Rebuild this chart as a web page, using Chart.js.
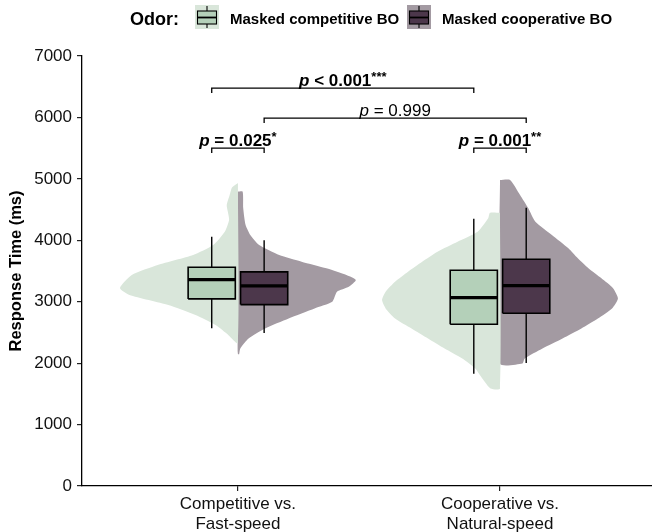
<!DOCTYPE html>
<html><head><meta charset="utf-8">
<script src="https://cdn.jsdelivr.net/npm/chart.js@4.4.1/dist/chart.umd.min.js"></script>
<style>html,body{margin:0;padding:0;background:#fff;overflow:hidden}#wrap{width:652px;height:532px}</style>
</head><body><div id="wrap"><canvas id="c" width="652" height="532"></canvas></div>
<script>
// ---------- data ----------
const categories = [['Competitive vs.', 'Fast-speed'], ['Cooperative vs.', 'Natural-speed']];
const seriesNames = ['Masked competitive BO', 'Masked cooperative BO'];
const legendTitle = 'Odor:';
const yAxisTitle = 'Response Time (ms)';
const yTickValues = [0, 1000, 2000, 3000, 4000, 5000, 6000, 7000];

// box statistics per category: [lower whisker, Q1, median, Q3, upper whisker] (ms)
const competitiveStats = [[2566, 3046, 3360, 3561, 4057], [1827, 2632, 3067, 3513, 4351]];
const cooperativeStats = [[2491, 2953, 3258, 3486, 4002], [2001, 2811, 3263, 3692, 4530]];

// violin outlines: [ms, relative half-width]
const competitiveFastViolin = [[4933,0],[4860,0.05],[4737,0.07],[4572,0.095],[4460,0.085],[4330,0.075],[4145,0.11],[3923,0.21],[3760,0.38],[3597,0.68],[3434,0.90],[3222,1.00],[3108,0.92],[2945,0.59],[2782,0.36],[2619,0.19],[2456,0.08],[2326,0]];
const cooperativeFastViolin = [[4791,0],[4791,0.04],[4521,0.045],[4249,0.065],[4086,0.105],[3923,0.18],[3760,0.35],[3651,0.54],[3543,0.75],[3434,0.92],[3352,1.00],[3243,0.94],[3162,0.84],[2999,0.80],[2891,0.65],[2728,0.43],[2565,0.23],[2402,0.09],[2239,0.02],[2146,0.01],[2146,0]];
const competitiveNaturalViolin = [[4449,0],[4449,0.085],[4358,0.10],[4139,0.19],[3976,0.36],[3814,0.53],[3651,0.66],[3488,0.78],[3325,0.89],[3162,0.97],[3026,1.00],[2891,0.97],[2728,0.89],[2565,0.75],[2402,0.61],[2239,0.47],[2076,0.32],[1913,0.21],[1750,0.15],[1587,0.08],[1587,0]];
const cooperativeNaturalViolin = [[4982,0],[4982,0.085],[4737,0.17],[4521,0.24],[4302,0.30],[4086,0.44],[3869,0.58],[3706,0.66],[3543,0.75],[3380,0.86],[3217,0.96],[3054,1.00],[2891,0.95],[2728,0.83],[2565,0.69],[2402,0.53],[2239,0.36],[2076,0.21],[1995,0.19],[1995,0]];

// significance brackets
const bracketLabels = ['p < 0.001', 'p = 0.999', 'p = 0.025', 'p = 0.001'];
const bracketStars = ['***', '', '*', '**'];
const bracketBold = [true, false, true, true];
const bracketLevels = [6477, 5988, 5499, 5499];
const bracketFrom = [[0, 0], [0, 1], [0, 0], [1, 0]]; // [category, series]
const bracketTo = [[1, 0], [1, 1], [0, 1], [1, 1]];

// ---------- style ----------
const FAM = '"Liberation Sans", Arial, Helvetica, sans-serif';
const violinColors = ['#d9e6da', '#a39aa2'];
const boxColors = ['#b4d0b9', '#4c374b'];
const violinHalf = 0.45, dodge = 0.1, boxHalf = 0.09, tipMs = 80;

const statsBySeries = [competitiveStats, cooperativeStats];
const violins = [[competitiveFastViolin, competitiveNaturalViolin], [cooperativeFastViolin, cooperativeNaturalViolin]];
const xOf = (c, s) => c + 1 + (s === 0 ? -dodge : dodge);

const datasets = [];
for (let s = 0; s < 2; s++) {
  for (let c = 0; c < 2; c++) {
    const dir = s === 0 ? -1 : 1;
    const prof = violins[s][c];
    const pts = prof.map(p => ({x: c + 1 + dir * p[1] * violinHalf, y: p[0]}));
    pts.push({x: c + 1, y: prof[0][0]});
    datasets.push({data: pts, fill: 'shape', backgroundColor: violinColors[s], borderWidth: 0, borderColor: 'rgba(0,0,0,0)', pointRadius: 0, tension: 0.2, order: 4});
    const st = statsBySeries[s][c];
    const xc = xOf(c, s);
    datasets.push({data: [{x: xc, y: st[0]}, {x: xc, y: st[4]}], borderColor: '#000', borderWidth: 1.4, pointRadius: 0, fill: false, order: 3});
    datasets.push({data: [{x: xc - boxHalf, y: st[1]}, {x: xc + boxHalf, y: st[1]}, {x: xc + boxHalf, y: st[3]}, {x: xc - boxHalf, y: st[3]}, {x: xc - boxHalf, y: st[1]}],
      fill: 'shape', backgroundColor: boxColors[s], borderColor: '#000', borderWidth: 1.6, borderJoinStyle: 'miter', pointRadius: 0, order: 2});
    datasets.push({data: [{x: xc - boxHalf, y: st[2]}, {x: xc + boxHalf, y: st[2]}], borderColor: '#000', borderWidth: 3.2, pointRadius: 0, fill: false, order: 1});
  }
}
for (let i = 0; i < bracketLabels.length; i++) {
  const x1 = xOf(bracketFrom[i][0], bracketFrom[i][1]);
  const x2 = xOf(bracketTo[i][0], bracketTo[i][1]);
  const yl = bracketLevels[i];
  datasets.push({data: [{x: x1, y: yl - tipMs}, {x: x1, y: yl}, {x: x2, y: yl}, {x: x2, y: yl - tipMs}], borderColor: '#000', borderWidth: 1.3, pointRadius: 0, fill: false, order: 0});
}

function drawRich(ctx, parts, cx, base) {
  let total = 0;
  parts.forEach(p => { ctx.font = p.font; p.w = ctx.measureText(p.t).width; total += p.w; });
  let xx = cx - total / 2;
  ctx.textAlign = 'left'; ctx.textBaseline = 'alphabetic';
  parts.forEach(p => { ctx.font = p.font; ctx.fillText(p.t, xx, base - (p.rise || 0)); xx += p.w; });
}

const annotPlugin = {
  id: 'annot',
  afterDraw(chart) {
    const {ctx, scales: {x, y}} = chart;
    ctx.save();
    ctx.fillStyle = '#000';
    for (let i = 0; i < bracketLabels.length; i++) {
      const x1 = x.getPixelForValue(xOf(bracketFrom[i][0], bracketFrom[i][1]));
      const x2 = x.getPixelForValue(xOf(bracketTo[i][0], bracketTo[i][1]));
      const yp = y.getPixelForValue(bracketLevels[i]);
      const b = bracketBold[i] ? 'bold ' : '';
      const lab = bracketLabels[i];
      const parts = [{t: lab.slice(0, 1), font: 'italic ' + b + '17px ' + FAM}, {t: lab.slice(1), font: b + '17px ' + FAM}];
      if (bracketStars[i]) parts.push({t: bracketStars[i], font: b + '13px ' + FAM, rise: 5});
      drawRich(ctx, parts, (x1 + x2) / 2, yp - 2.5);
    }
    // legend
    ctx.font = 'bold 18px ' + FAM;
    ctx.textAlign = 'left'; ctx.textBaseline = 'alphabetic';
    ctx.fillText(legendTitle, 130, 25);
    const iconX = [195, 407], labX = [230, 442];
    for (let s = 0; s < 2; s++) {
      const ix = iconX[s];
      ctx.fillStyle = violinColors[s];
      ctx.fillRect(ix, 5, 24, 24);
      ctx.strokeStyle = '#000'; ctx.lineWidth = 1.1;
      ctx.beginPath(); ctx.moveTo(ix + 12, 6); ctx.lineTo(ix + 12, 28); ctx.stroke();
      ctx.fillStyle = boxColors[s];
      ctx.fillRect(ix + 2.5, 11, 19, 13);
      ctx.strokeRect(ix + 2.5, 11, 19, 13);
      ctx.lineWidth = 1.8;
      ctx.beginPath(); ctx.moveTo(ix + 2.5, 17.5); ctx.lineTo(ix + 21.5, 17.5); ctx.stroke();
      ctx.fillStyle = '#000';
      ctx.font = 'bold 15px ' + FAM;
      ctx.fillText(seriesNames[s], labX[s], 24);
    }
    ctx.restore();
  }
};

new Chart(document.getElementById('c'), {
  type: 'line',
  data: {datasets},
  plugins: [annotPlugin],
  options: {
    responsive: false, animation: false, devicePixelRatio: 1,
    layout: {padding: {top: 56, left: 0, right: 0, bottom: 0}},
    plugins: {legend: {display: false}, tooltip: {enabled: false}},
    elements: {line: {borderCapStyle: 'butt'}},
    scales: {
      x: {
        type: 'linear', min: 0.405, max: 2.58,
        afterBuildTicks: s => { s.ticks = [{value: 1}, {value: 2}]; },
        afterFit: s => { s.height = 46; },
        ticks: {autoSkip: false, maxRotation: 0, padding: 4, color: '#111',
          font: {family: FAM, size: 17, lineHeight: 1.15},
          callback: v => categories[Math.round(v) - 1]},
        grid: {display: true, drawOnChartArea: false, drawTicks: true, tickLength: 5, color: '#222', lineWidth: 1.2},
        border: {display: true, color: '#000', width: 1.3}
      },
      y: {
        min: 0, max: 7000,
        afterBuildTicks: s => { s.ticks = yTickValues.map(v => ({value: v})); },
        afterFit: s => { s.width = 82; },
        ticks: {padding: 5, color: '#111', font: {family: FAM, size: 17}, callback: v => String(v)},
        grid: {display: true, drawOnChartArea: false, drawTicks: true, tickLength: 5, color: '#222', lineWidth: 1.2},
        border: {display: true, color: '#000', width: 1.3},
        title: {display: true, text: yAxisTitle, color: '#000', font: {family: FAM, size: 16.5, weight: 'bold'}, padding: {top: 7, bottom: 0}}
      }
    }
  }
});
</script></body></html>
